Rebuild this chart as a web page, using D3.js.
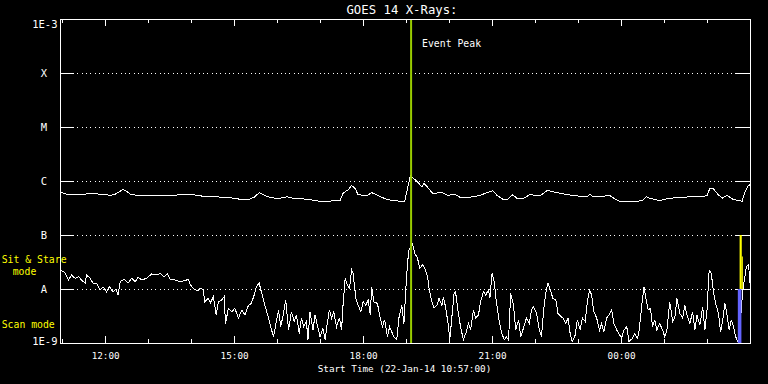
<!DOCTYPE html>
<html><head><meta charset="utf-8">
<script src="https://cdn.jsdelivr.net/npm/d3@7"></script>
<style>html,body{margin:0;padding:0;background:#000;}svg{display:block;}</style>
</head><body><svg id="c" width="768" height="384"></svg>
<script>
// ---------- data ----------
const startTime = "2014-01-22T10:57:00Z";
const endTime = "2014-01-23T03:00:00Z";
const eventPeakTime = "2014-01-22T19:07:00Z";
const titleText = "GOES 14 X-Rays:";
const xAxisTitle = "Start Time (22-Jan-14 10:57:00)";
const eventLabel = "Event Peak";
const levelValues = [1e-9, 1e-8, 1e-7, 1e-6, 1e-5, 1e-4, 1e-3];
const levelLabels = ["1E-9", "A", "B", "C", "M", "X", "1E-3"];
const xTickLabels = ["12:00", "15:00", "18:00", "21:00", "00:00"];
const modeLabels = ["Sit & Stare", "mode", "Scan mode"];

// long channel (1-8 A): [minutes after start, flux W/m^2]
const longChannel = [
 [0,6.3e-7],[9,5.7e-7],[21,5.6e-7],[42,5.8e-7],[60,5.7e-7],[70,5.4e-7],[77,5.7e-7],[84,6.45e-7],[88,7.0e-7],[93,6.45e-7],
 [98,5.7e-7],[112,5.3e-7],[126,5.3e-7],[144,5.3e-7],[158,5.4e-7],[172,5.7e-7],[186,5.6e-7],[195,5.3e-7],[213,5.1e-7],[233,5.0e-7],
 [251,4.6e-7],[265,4.6e-7],[272,5.1e-7],[278,6.1e-7],[283,5.7e-7],[290,5.1e-7],[303,4.7e-7],[317,5.1e-7],[325,4.8e-7],[345,4.6e-7],
 [363,4.2e-7],[373,4.2e-7],[391,4.4e-7],[395,5.9e-7],[400,6.6e-7],[403,7.0e-7],[407,8.3e-7],[412,7.2e-7],[416,5.6e-7],[428,5.3e-7],
 [435,6.1e-7],[440,5.7e-7],[447,5.1e-7],[456,4.6e-7],[465,4.3e-7],[481,4.2e-7],[484,6.3e-7],[487,9.6e-7],[489,1.24e-6],[495,1.07e-6],
 [499,9.6e-7],[505,7.8e-7],[508,9.1e-7],[514,7.4e-7],[520,5.9e-7],[534,6.1e-7],[541,5.4e-7],[551,5.7e-7],[558,5.0e-7],[572,5.0e-7],
 [586,5.4e-7],[596,6.1e-7],[604,6.6e-7],[610,5.4e-7],[618,4.6e-7],[625,4.6e-7],[632,5.6e-7],[638,4.7e-7],[646,4.7e-7],[656,5.6e-7],
 [670,5.3e-7],[680,6.7e-7],[693,6.1e-7],[707,5.6e-7],[721,5.3e-7],[735,5.1e-7],[740,5.7e-7],[744,5.1e-7],[763,5.3e-7],[767,5.4e-7],
 [774,4.7e-7],[781,4.2e-7],[800,4.2e-7],[813,4.3e-7],[818,5.1e-7],[823,4.8e-7],[837,4.3e-7],[847,4.7e-7],[865,5.0e-7],[883,5.1e-7],
 [903,5.3e-7],[907,7.4e-7],[911,7.4e-7],[918,5.7e-7],[924,4.8e-7],[931,5.4e-7],[939,4.6e-7],[952,4.2e-7],[956,6.3e-7],[960,8.1e-7],
 [963,8.5e-7]
];

// short channel (0.5-4 A): [minutes after start, flux W/m^2]
const shortChannel = [
 [2,2.2e-8],[7,2.0e-8],[12,1.47e-8],[16,1.82e-8],[21,1.58e-8],[26,1.69e-8],[30,1.47e-8],[35,1.28e-8],[37,1.82e-8],[42,1.58e-8],
 [46,1.28e-8],[51,1.28e-8],[56,9.6e-9],[60,1.10e-8],[65,8.9e-9],[69,1.10e-8],[74,8.9e-9],[78,9.9e-9],[81,7.7e-9],[84,1.37e-8],
 [90,1.51e-8],[95,1.28e-8],[100,1.58e-8],[105,1.37e-8],[109,1.65e-8],[114,1.47e-8],[121,1.58e-8],[128,1.90e-8],[135,1.82e-8],[140,1.95e-8],
 [145,1.69e-8],[150,1.90e-8],[154,1.51e-8],[160,1.47e-8],[167,1.37e-8],[174,1.42e-8],[179,1.51e-8],[182,1.19e-8],[187,9.9e-9],[192,9.3e-9],
 [196,1.03e-8],[200,9.6e-9],[202,5.8e-9],[207,6.7e-9],[210,5.6e-9],[214,7.2e-9],[218,3.3e-9],[221,5.8e-9],[226,6.3e-9],[229,7.2e-9],
 [231,2.3e-9],[235,4.4e-9],[240,3.8e-9],[244,4.4e-9],[249,2.9e-9],[254,4.1e-9],[258,3.3e-9],[263,5.0e-9],[267,5.4e-9],[271,7.7e-9],
 [274,1.10e-8],[278,1.28e-8],[281,8.9e-9],[286,5.0e-9],[291,2.9e-9],[294,2.0e-9],[298,1.3e-9],[301,2.15e-9],[305,4.1e-9],[308,2.0e-9],
 [312,3.55e-9],[315,6.3e-9],[319,1.74e-9],[323,3.8e-9],[327,2.5e-9],[330,3.3e-9],[334,1.5e-9],[337,2.9e-9],[340,2.0e-9],[344,2.5e-9],
 [346,1.14e-9],[349,3.8e-9],[353,1.74e-9],[356,3.3e-9],[359,2.15e-9],[363,1.3e-9],[367,1.87e-9],[370,1.14e-9],[373,2.3e-9],[376,4.1e-9],
 [379,2.9e-9],[382,3.8e-9],[386,2.0e-9],[390,2.9e-9],[393,1.74e-9],[395,5.0e-9],[398,1.58e-8],[401,1.19e-8],[404,1.03e-8],[407,2.25e-8],
 [409,1.95e-8],[413,6.7e-9],[416,5.0e-9],[420,3.8e-9],[423,5.8e-9],[427,5.0e-9],[430,6.3e-9],[433,3.3e-9],[435,1.10e-8],[438,5.8e-9],
 [443,5.4e-9],[447,2.9e-9],[450,2.0e-9],[453,2.7e-9],[457,1.3e-9],[460,2.0e-9],[463,1.6e-9],[466,1.3e-9],[470,1.14e-9],[473,2.9e-9],
 [477,5.0e-9],[480,2.3e-9],[483,1.19e-8],[485,3.0e-8],[487,5.3e-8],[490,6.1e-8],[492,6.8e-8],[495,4.6e-8],[499,3.7e-8],[502,2.4e-8],
 [506,2.8e-8],[509,2.4e-8],[513,1.69e-8],[515,1.03e-8],[519,5.8e-9],[522,4.4e-9],[526,5.0e-9],[529,6.7e-9],[533,5.0e-9],[535,7.2e-9],
 [538,4.7e-9],[542,2.15e-9],[544,1.14e-9],[547,3.1e-9],[550,8.3e-9],[552,8.9e-9],[556,3.55e-9],[559,2.0e-9],[563,1.14e-9],[567,1.6e-9],
 [570,2.3e-9],[573,1.74e-9],[577,4.1e-9],[580,2.9e-9],[584,3.3e-9],[587,5.8e-9],[591,8.9e-9],[594,7.7e-9],[598,9.6e-9],[600,6.7e-9],
 [603,1.95e-8],[606,1.37e-8],[609,5.8e-9],[613,2.5e-9],[616,1.6e-9],[620,1.14e-9],[623,1.3e-9],[626,1.14e-9],[629,8.3e-9],[633,5.0e-9],
 [636,1.74e-9],[640,2.7e-9],[643,1.3e-9],[646,1.74e-9],[651,2.9e-9],[655,2.3e-9],[658,4.1e-9],[661,4.7e-9],[665,3.55e-9],[669,1.74e-9],
 [672,1.3e-9],[675,4.1e-9],[678,8.3e-9],[681,1.31e-8],[685,8.9e-9],[688,6.7e-9],[692,6.3e-9],[695,3.55e-9],[699,3.1e-9],[702,2.9e-9],
 [706,2.3e-9],[709,2.9e-9],[712,1.5e-9],[715,1.06e-9],[719,1.4e-9],[722,2.7e-9],[726,1.74e-9],[729,2.9e-9],[733,2.5e-9],[736,5.8e-9],
 [739,9.6e-9],[742,7.7e-9],[745,3.8e-9],[749,2.9e-9],[753,1.74e-9],[756,2.3e-9],[759,1.6e-9],[763,2.9e-9],[766,3.3e-9],[770,4.1e-9],
 [773,2.3e-9],[777,1.74e-9],[780,1.5e-9],[784,1.22e-9],[787,1.74e-9],[791,2.0e-9],[794,1.06e-9],[799,1.22e-9],[802,1.5e-9],[806,1.22e-9],
 [808,1.6e-9],[812,5.0e-9],[815,1.10e-8],[818,6.3e-9],[821,4.1e-9],[824,4.4e-9],[827,2.0e-9],[830,2.7e-9],[833,1.74e-9],[837,2.3e-9],
 [841,1.74e-9],[844,1.3e-9],[847,1.74e-9],[851,5.8e-9],[855,2.5e-9],[858,2.9e-9],[861,6.7e-9],[865,3.55e-9],[869,2.9e-9],[872,5.0e-9],
 [875,3.3e-9],[879,2.3e-9],[883,3.8e-9],[886,1.74e-9],[889,3.3e-9],[893,2.15e-9],[897,4.7e-9],[900,1.74e-9],[903,4.1e-9],[906,2.25e-8],
 [909,1.95e-8],[912,8.9e-9],[915,5.4e-9],[919,3.55e-9],[922,1.6e-9],[925,2.7e-9],[928,5.4e-9],[931,3.3e-9],[934,1.74e-9],[937,2.7e-9],
 [940,2.0e-9],[943,1.3e-9],[946,1.06e-9],[949,1.74e-9],[951,4.7e-9],[954,1.19e-8],[958,2.6e-8],[961,2.8e-8],[963,1.28e-8]
];

// observing-mode indicator bars: [start minute, end minute, low flux, high flux]
const scanBars = [[946, 951, 1e-9, 1e-8]];
const stareBars = [[948.5, 951.5, 1e-8, 1e-7], [951.5, 953, 1e-8, 4e-8]];

// ---------- drawing ----------
const L = 60, R = 750, T = 19, B = 343;
const FONT = "'DejaVu Sans Mono', monospace";
const svg = d3.select("#c");
svg.append("rect").attr("width", 768).attr("height", 384).attr("fill", "#000");

const t0 = new Date(startTime), t1 = new Date(endTime);
const toDate = m => new Date(t0.getTime() + m * 60000);
const x = d3.scaleUtc().domain([t0, t1]).range([L, R]);
const y = d3.scaleLog().domain([levelValues[0], levelValues[levelValues.length - 1]]).range([B, T]);

svg.append("defs").append("clipPath").attr("id", "plot")
  .append("rect").attr("x", L).attr("y", T).attr("width", R - L + 1).attr("height", B - T + 1);

// dotted grid lines at class levels
const inner = levelValues.slice(1, -1);
svg.append("g").selectAll("line").data(inner).join("line")
  .attr("x1", L).attr("x2", R)
  .attr("y1", d => Math.round(y(d)) + 0.5).attr("y2", d => Math.round(y(d)) + 0.5)
  .attr("stroke", "#fff").attr("stroke-width", 1).attr("stroke-dasharray", "1,3.33")
  .attr("shape-rendering", "crispEdges");

// y ticks (left and right, inward)
const gyl = svg.append("g").attr("transform", `translate(${L},0)`)
  .call(d3.axisRight(y).tickValues(inner).tickSize(14).tickFormat(""));
const gyr = svg.append("g").attr("transform", `translate(${R},0)`)
  .call(d3.axisLeft(y).tickValues(inner).tickSize(14).tickFormat(""));

// time ticks top and bottom
const hourTicks = d3.utcHour.every(1).range(t0, t1);
const majorTicks = d3.utcHour.every(3).range(t0, t1);
const gxt1 = svg.append("g").attr("transform", `translate(0,${T})`).call(d3.axisBottom(x).tickValues(hourTicks).tickSize(4).tickFormat(""));
const gxt2 = svg.append("g").attr("transform", `translate(0,${T})`).call(d3.axisBottom(x).tickValues(majorTicks).tickSize(7).tickFormat(""));
const gxb1 = svg.append("g").attr("transform", `translate(0,${B})`).call(d3.axisTop(x).tickValues(hourTicks).tickSize(4).tickFormat(""));
const gxb2 = svg.append("g").attr("transform", `translate(0,${B})`).call(d3.axisTop(x).tickValues(majorTicks).tickSize(7).tickFormat(""));
[gyl, gyr, gxt1, gxt2, gxb1, gxb2].forEach(g => {
  g.select(".domain").remove();
  g.selectAll(".tick line").attr("stroke", "#fff").attr("shape-rendering", "crispEdges");
});

// time tick labels
const gxl = svg.append("g").attr("transform", `translate(0,${B})`)
  .call(d3.axisBottom(x).tickValues(majorTicks).tickSize(0).tickFormat((d, i) => xTickLabels[i]));
gxl.select(".domain").remove();
gxl.selectAll("text").attr("y", 16.3).attr("dy", null).attr("fill", "#fff")
  .style("font-family", FONT).style("font-size", "9.3px");

// y labels
levelValues.forEach((v, i) => {
  const lab = levelLabels[i];
  const t = svg.append("text").text(lab).attr("fill", "#fff")
    .style("font-family", FONT).style("font-size", "10.5px");
  if (i === 0) t.attr("x", 57.5).attr("y", y(v) + 1.5).attr("text-anchor", "end");
  else if (i === levelValues.length - 1) t.attr("x", 57.5).attr("y", y(v) + 8.5).attr("text-anchor", "end");
  else t.attr("x", 44).attr("y", y(v) + 4.2).attr("text-anchor", "middle");
});

// data lines
const line = d3.line().x(d => x(toDate(d[0]))).y(d => y(d[1]));
const gd = svg.append("g").attr("clip-path", "url(#plot)");
[longChannel, shortChannel].forEach(s => {
  gd.append("path").attr("d", line(s)).attr("fill", "none").attr("stroke", "#fff").attr("stroke-width", 1)
    .attr("stroke-linejoin", "miter").attr("shape-rendering", "crispEdges");
});

// mode bars
gd.selectAll("rect.scan").data(scanBars).join("rect").attr("class", "scan")
  .attr("x", d => x(toDate(d[0]))).attr("width", d => x(toDate(d[1])) - x(toDate(d[0])))
  .attr("y", d => y(d[3])).attr("height", d => y(d[2]) - y(d[3])).attr("fill", "#6464ff");
gd.selectAll("rect.stare").data(stareBars).join("rect").attr("class", "stare")
  .attr("x", d => x(toDate(d[0]))).attr("width", d => x(toDate(d[1])) - x(toDate(d[0])))
  .attr("y", d => y(d[3])).attr("height", d => y(d[2]) - y(d[3])).attr("fill", "#ffff00");

// event peak line
const xp = x(new Date(eventPeakTime));
svg.append("line").attr("x1", xp).attr("x2", xp).attr("y1", T).attr("y2", B + 0.5)
  .attr("stroke", "#99cc00").attr("stroke-width", 2);
svg.append("text").text(eventLabel).attr("x", xp + 11).attr("y", 46.5).attr("fill", "#fff")
  .style("font-family", FONT).style("font-size", "9.8px");

// frame
svg.append("rect").attr("x", L + 0.5).attr("y", T + 0.5).attr("width", R - L).attr("height", B - T)
  .attr("fill", "none").attr("stroke", "#fff").attr("stroke-width", 1);

// titles
svg.append("text").text(titleText).attr("x", 402).attr("y", 14).attr("text-anchor", "middle")
  .attr("fill", "#fff").style("font-family", FONT).style("font-size", "12.3px");
svg.append("text").text(xAxisTitle).attr("x", 404.5).attr("y", 371.5).attr("text-anchor", "middle")
  .attr("fill", "#fff").style("font-family", FONT).style("font-size", "9.3px");

// mode labels
const modePos = [[1.7, 263], [12.7, 275], [1.7, 327.7]];
modeLabels.forEach((m, i) => {
  svg.append("text").text(m).attr("x", modePos[i][0]).attr("y", modePos[i][1])
    .attr("fill", "#ffff00").style("font-family", FONT).style("font-size", "9.8px");
});
</script></body></html>
